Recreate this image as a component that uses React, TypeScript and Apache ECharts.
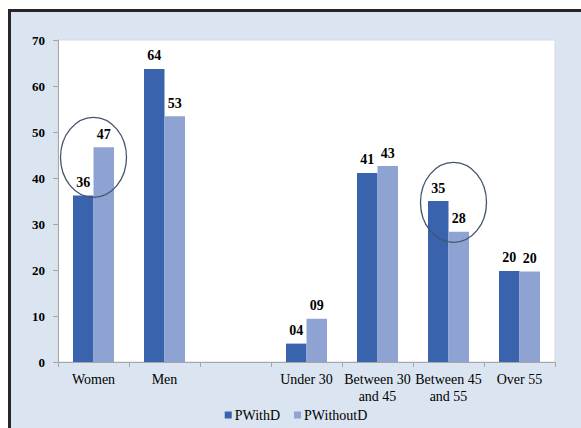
import React, { useEffect, useRef } from "react";
import * as echarts from "echarts";

const categories = ["Women", "Men", "", "Under 30", "Between 30\nand 45", "Between 45\nand 55", "Over 55"];
const pWithD = [36.2, 63.7, null, 4.0, 41.1, 35.0, 19.8];
const pWithoutD = [46.7, 53.4, null, 9.4, 42.6, 28.3, 19.7];
const seriesNames = ["PWithD", "PWithoutD"];
const yTicks = { min: 0, max: 70, interval: 10 };
const circledCategories = [0, 5];

const FONT = "'Liberation Serif', 'Times New Roman', Times, serif";

export default function App() {
  const ref = useRef<HTMLDivElement>(null);
  useEffect(() => {
    if (!ref.current) return;
    const chart = echarts.init(ref.current, null, { renderer: "svg" });
    const fmt = (p: any) =>
      p.value == null ? "" : String(Math.round(p.value)).padStart(2, "0");
    const label = {
      show: true,
      position: "top",
      distance: 6,
      formatter: fmt,
      fontFamily: FONT,
      fontWeight: "bold",
      fontSize: 14,
      color: "#000",
    };
    chart.setOption({
      animation: false,
      backgroundColor: "transparent",
      grid: {
        left: 47,
        top: 28,
        right: 26,
        bottom: 66,
        show: true,
        backgroundColor: "#ffffff",
        borderColor: "#d9d9d9",
        borderWidth: 1,
      },
      legend: {
        data: seriesNames,
        top: 391,
        left: "center",
        itemWidth: 7,
        itemHeight: 7,
        itemGap: 14,
        icon: "rect",
        textStyle: { fontFamily: FONT, fontSize: 14, color: "#000", padding: [0, 0, 0, -2] },
      },
      xAxis: {
        type: "category",
        data: categories,
        axisLine: { lineStyle: { color: "#a6a6a6" } },
        axisTick: { show: true, length: 5, lineStyle: { color: "#a6a6a6" } },
        axisLabel: {
          interval: 0,
          margin: 9,
          fontFamily: FONT,
          fontSize: 14,
          lineHeight: 17,
          color: "#000",
        },
        splitLine: { show: false },
      },
      yAxis: {
        type: "value",
        min: yTicks.min,
        max: yTicks.max,
        interval: yTicks.interval,
        axisLine: { show: true, lineStyle: { color: "#a6a6a6" } },
        axisTick: { show: true, length: 5, lineStyle: { color: "#a6a6a6" } },
        axisLabel: {
          margin: 13,
          fontFamily: FONT,
          fontWeight: "bold",
          fontSize: 13,
          color: "#000",
        },
        splitLine: { show: false },
      },
      series: [
        {
          name: seriesNames[0],
          type: "bar",
          data: pWithD,
          barWidth: 20.5,
          barGap: "0%",
          itemStyle: { color: "#3a63ad" },
          label,
        },
        {
          name: seriesNames[1],
          type: "bar",
          data: pWithoutD,
          barWidth: 20.5,
          barGap: "0%",
          itemStyle: { color: "#8fa3d3" },
          label,
        },
      ],
    });
    const ellipses = circledCategories.map((i) => {
      const a = chart.convertToPixel({ xAxisIndex: 0, yAxisIndex: 0 }, [i, pWithD[i] as number]) as number[];
      const b = chart.convertToPixel({ xAxisIndex: 0, yAxisIndex: 0 }, [i, pWithoutD[i] as number]) as number[];
      const cx = a[0] + (i === 0 ? 0 : 5);
      const cy = (a[1] + b[1]) / 2 - 14;
      return {
        type: "ellipse",
        shape: { cx, cy, rx: 33, ry: 40 },
        style: { fill: "none", stroke: "#45536f", lineWidth: 1.3 },
        z: 100,
      };
    });
    chart.setOption({ graphic: ellipses });
    return () => chart.dispose();
  }, []);
  return (
    <div
      style={{
        position: "fixed",
        left: 8,
        top: 9,
        width: 573,
        height: 419,
        boxSizing: "border-box",
        borderLeft: "3px solid #262626",
        borderTop: "3px solid #262626",
        background: "#dbe5f1",
        overflow: "hidden",
      }}
    >
      <div ref={ref} style={{ width: 570, height: 416 }} />
    </div>
  );
}
